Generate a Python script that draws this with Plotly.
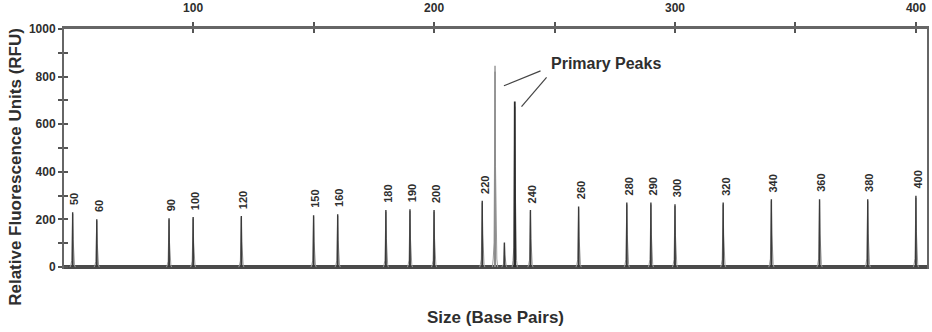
import plotly.graph_objects as go

# ---- data ----
ladder_sizes = [50, 60, 90, 100, 120, 150, 160, 180, 190, 200, 220, 240, 260, 280, 290, 300, 320, 340, 360, 380, 400]
ladder_heights = [230, 201, 205, 210, 215, 218, 222, 240, 243, 240, 279, 240, 254, 271, 271, 264, 271, 285, 285, 285, 300]
ladder_labels = [str(s) for s in ladder_sizes]

primary_sizes = [225.3, 233.5]
primary_heights = [846, 695]
minor_sizes = [229.2]
minor_heights = [103]

x_tick_major = [100, 200, 300, 400]
x_tick_minor = [150, 250, 350]
y_tick_major = [0, 200, 400, 600, 800, 1000]
y_tick_minor = [100, 300, 500, 700, 900]

X_RANGE = [46.4, 404.6]
Y_RANGE = [-8, 1000]

SANS = "Liberation Sans, Arial, sans-serif"
TXT = "#2e2e2e"


def spike(xs, hs, half):
    px, py = [], []
    for x, h in zip(xs, hs):
        px += [x - half, x, x + half, None]
        py += [0, h, 0, None]
    return px, py


def outline(xs, hs):
    px, py = [], []
    for x, h in zip(xs, hs):
        px += [x - 1.1, x - 0.75, x - 0.4, x - 0.2, x, x + 0.2, x + 0.4, x + 0.75, x + 1.1, None]
        py += [0, h * 0.04, h * 0.12, h * 0.5, h * 0.97, h * 0.5, h * 0.12, h * 0.04, 0, None]
    return px, py


fig = go.Figure()

ox, oy = outline(ladder_sizes + primary_sizes + minor_sizes, ladder_heights + primary_heights + minor_heights)
fig.add_trace(go.Scatter(x=ox, y=oy, mode="lines", line=dict(color="#9a9a9a", width=1), hoverinfo="skip"))

sx, sy = spike(ladder_sizes + minor_sizes, ladder_heights + minor_heights, 0.12)
fig.add_trace(go.Scatter(x=sx, y=sy, mode="lines", line=dict(color="#3a3a3a", width=1.4), hoverinfo="skip"))

p1x, p1y = spike(primary_sizes[:1], primary_heights[:1], 0.15)
fig.add_trace(go.Scatter(x=p1x, y=p1y, mode="lines", line=dict(color="#8a8a8a", width=1.3), hoverinfo="skip"))
p2x, p2y = spike(primary_sizes[1:], primary_heights[1:], 0.18)
fig.add_trace(go.Scatter(x=p2x, y=p2y, mode="lines", line=dict(color="#2b2b2b", width=1.8), hoverinfo="skip"))

# invisible trace anchoring overlay axes
fig.add_trace(go.Scatter(x=[X_RANGE[0]], y=[0], xaxis="x2", yaxis="y2", mode="markers",
                         marker=dict(opacity=0), hoverinfo="skip"))

# peak labels
for s, h, lab in zip(ladder_sizes, ladder_heights, ladder_labels):
    fig.add_annotation(x=s, y=h, text=lab, textangle=-90, showarrow=False,
                       xanchor="center", yanchor="bottom", yshift=5, xshift=2,
                       font=dict(family=SANS, size=11, color=TXT, weight="bold"))

# Primary Peaks callout
lab_x, lab_y = 271.3, 857
fig.add_annotation(x=lab_x, y=lab_y, text="Primary Peaks", showarrow=False,
                   font=dict(family=SANS, size=16, color=TXT, weight="bold"))
fig.add_shape(type="line", x0=244.2, y0=824, x1=primary_sizes[0] + 3.7, y1=primary_heights[0] * 0.9,
              line=dict(color="#444", width=1.2))
fig.add_shape(type="line", x0=246.7, y0=797, x1=primary_sizes[1] + 2.8, y1=primary_heights[1] * 0.97,
              line=dict(color="#444", width=1.2))

# axis titles
fig.add_annotation(xref="paper", yref="paper", x=-0.057, y=0.425, text="Relative Fluorescence Units (RFU)",
                   textangle=-90, showarrow=False, xanchor="center", yanchor="middle",
                   font=dict(family=SANS, size=17, color=TXT, weight="bold"))
fig.add_annotation(xref="paper", yref="paper", x=0.5, y=-0.2, text="Size (Base Pairs)",
                   showarrow=False, xanchor="center", yanchor="middle",
                   font=dict(family=SANS, size=17, color=TXT, weight="bold"))

tickfont = dict(family=SANS, size=12, color=TXT, weight="bold")

fig.update_layout(
    width=932, height=332,
    margin=dict(l=64, r=5, t=29, b=63, autoexpand=False),
    paper_bgcolor="white", plot_bgcolor="white",
    showlegend=False,
    xaxis=dict(range=X_RANGE, side="top", showline=True, linecolor="#666", linewidth=2.5, automargin=False,
               tickvals=x_tick_major, ticks="outside", ticklen=4, tickwidth=1.5, tickcolor="#555",
               minor=dict(tickvals=x_tick_minor, ticks="outside", ticklen=4, tickwidth=1.5, tickcolor="#555"),
               showgrid=False, zeroline=False, tickfont=tickfont, ticklabelstandoff=5),
    xaxis2=dict(range=X_RANGE, side="top", overlaying="x", anchor="y", showline=False, automargin=False,
                tickvals=x_tick_major + x_tick_minor, ticks="inside", ticklen=4, tickwidth=1.5, tickcolor="#555",
                showticklabels=False, showgrid=False, zeroline=False),
    yaxis=dict(range=Y_RANGE, showline=True, linecolor="#666", linewidth=2, mirror=True, automargin=False,
               tickvals=y_tick_major, ticks="outside", ticklen=4, tickwidth=1.5, tickcolor="#555",
               minor=dict(tickvals=y_tick_minor, ticks="outside", ticklen=4, tickwidth=1.5, tickcolor="#555"),
               showgrid=False, zeroline=True, zerolinecolor="#4a4a4a", zerolinewidth=4,
               tickfont=tickfont, ticklabelstandoff=0),
    yaxis2=dict(range=Y_RANGE, overlaying="y", anchor="x", side="left", showline=False, automargin=False,
                tickvals=y_tick_major + y_tick_minor, ticks="inside", ticklen=4, tickwidth=1.5, tickcolor="#555",
                showticklabels=False, showgrid=False, zeroline=False),
)

fig.write_html("out.html", config={"displayModeBar": False},
               post_script="document.body.style.margin='0';document.body.style.overflow='hidden';")
